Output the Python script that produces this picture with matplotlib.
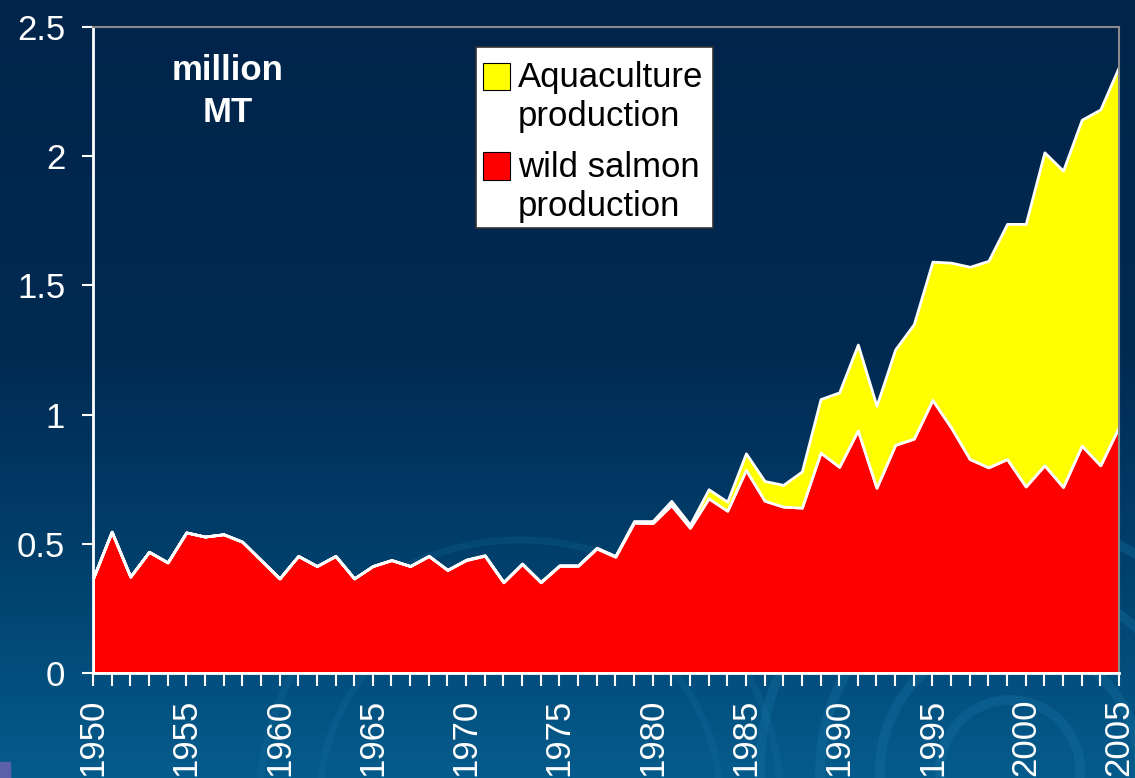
import numpy as np
import matplotlib.pyplot as plt
from matplotlib.colors import LinearSegmentedColormap
from matplotlib.patches import Rectangle, Circle

plt.rcParams['font.family'] = ['Liberation Sans', 'DejaVu Sans']

# data (million MT)
years = list(range(1950, 2006))
wild = [0.366, 0.547, 0.373, 0.469, 0.428, 0.544, 0.528, 0.537, 0.508, 0.437,
        0.366, 0.453, 0.414, 0.453, 0.366, 0.414, 0.437, 0.414, 0.453, 0.399,
        0.437, 0.454, 0.351, 0.422, 0.351, 0.415, 0.415, 0.482, 0.450, 0.582,
        0.580, 0.650, 0.562, 0.676, 0.628, 0.786, 0.667, 0.644, 0.640, 0.853,
        0.798, 0.939, 0.717, 0.883, 0.907, 1.057, 0.950, 0.828, 0.796, 0.828,
        0.722, 0.804, 0.720, 0.880, 0.804, 0.954]
aqua = [0.0, 0.0, 0.0, 0.0, 0.0, 0.0, 0.0, 0.0, 0.0, 0.0,
        0.0, 0.0, 0.0, 0.0, 0.0, 0.0, 0.0, 0.0, 0.0, 0.0,
        0.002, 0.002, 0.002, 0.002, 0.002, 0.002, 0.002, 0.003, 0.003, 0.006,
        0.008, 0.016, 0.012, 0.035, 0.035, 0.064, 0.076, 0.084, 0.140, 0.207,
        0.288, 0.332, 0.317, 0.369, 0.443, 0.535, 0.638, 0.744, 0.799, 0.910,
        1.016, 1.211, 1.224, 1.261, 1.377, 1.393]
y_ticks = [0, 0.5, 1, 1.5, 2, 2.5]
y_labels = ['0', '0.5', '1', '1.5', '2', '2.5']
labels = ['Aquaculture\nproduction', 'wild salmon\nproduction']
colors = ['#ffff00', '#ff0000']

W, H = 1135, 778
fig = plt.figure(figsize=(W / 100, H / 100), dpi=100)

# slide-like background: vertical gradient + faint swirl arcs
bg = fig.add_axes([0, 0, 1, 1], zorder=0)
cmap = LinearSegmentedColormap.from_list(
    'bg', [(0, '#00244a'), (0.45, '#002a52'), (0.75, '#01426f'), (1, '#055c8c')])
grad = np.linspace(0, 1, 256).reshape(-1, 1)
bg.imshow(grad, cmap=cmap, aspect='auto', extent=[0, W, H, 0])
for r in [70, 130, 190, 250]:
    bg.add_patch(Circle((1010, 770), r, fill=False, ec='#1a77a8', lw=7, alpha=0.3))
for r in [200, 260]:
    bg.add_patch(Circle((520, 800), r, fill=False, ec='#1a77a8', lw=5, alpha=0.2))
bg.add_patch(Rectangle((0, 762), 10, 16, color='#5b60a8'))
bg.set_xlim(0, W)
bg.set_ylim(H, 0)
bg.axis('off')

ax = fig.add_axes([93 / W, 1 - 673 / H, (1119 - 93) / W, (673 - 27) / H], zorder=1)
ax.set_facecolor('none')
ax.stackplot(years, wild, aqua, colors=[colors[1], colors[0]],
             edgecolor='white', linewidth=2)
ax.set_xlim(1950, 2005)
ax.set_ylim(0, 2.5)

ax.set_xticks(range(1950, 2006, 5))
ax.set_xticks(range(1950, 2006), minor=True)
ax.set_xticklabels([str(y) for y in range(1950, 2006, 5)], rotation=90)
ax.set_yticks(y_ticks)
ax.set_yticklabels(y_labels)
ax.tick_params(axis='x', which='both', direction='out', length=9.5, width=1.5,
               color='white', labelcolor='white', labelsize=25, pad=9)
ax.tick_params(axis='y', direction='out', length=8, width=1.5,
               color='white', labelcolor='white', labelsize=25, pad=12)

for s in ['left', 'bottom']:
    ax.spines[s].set_color('white')
    ax.spines[s].set_linewidth(2)
for s in ['top', 'right']:
    ax.spines[s].set_color('#8a8a8a')
    ax.spines[s].set_linewidth(1.5)

ax.text(0.1316, 0.900, 'million\nMT', transform=ax.transAxes, ha='center',
        va='center', fontsize=25, fontweight='bold', color='white',
        linespacing=1.32)

# legend drawn by hand so the swatch sits next to the first text line
ax.add_patch(Rectangle((0.373, 0.689), 0.231, 0.280, transform=ax.transAxes,
                       facecolor='white', edgecolor='#333333', lw=1.2, zorder=5))
ax.add_patch(Rectangle((0.380, 0.902), 0.026, 0.043, transform=ax.transAxes,
                       facecolor=colors[0], edgecolor='black', lw=0.8, zorder=6))
ax.add_patch(Rectangle((0.380, 0.763), 0.026, 0.043, transform=ax.transAxes,
                       facecolor=colors[1], edgecolor='black', lw=0.8, zorder=6))
ax.text(0.414, 0.892, labels[0], transform=ax.transAxes, ha='left', va='center',
        fontsize=25, color='black', linespacing=1.24, zorder=6)
ax.text(0.414, 0.752, labels[1], transform=ax.transAxes, ha='left', va='center',
        fontsize=25, color='black', linespacing=1.24, zorder=6)

fig.savefig('out.png', dpi=100)
